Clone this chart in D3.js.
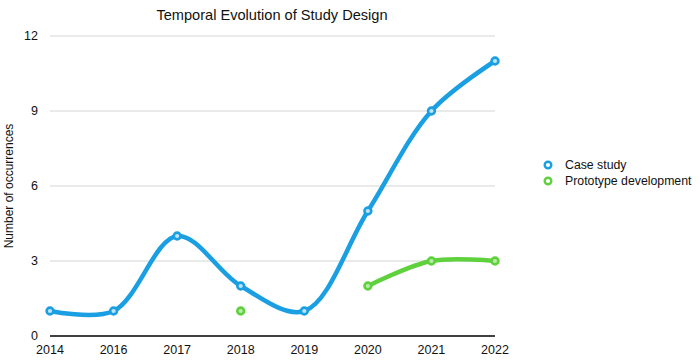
<!DOCTYPE html>
<html><head><meta charset="utf-8">
<script src="https://cdn.jsdelivr.net/npm/d3@7"></script>
<style>body{margin:0;background:#fff;}svg{display:block;font-family:"Liberation Sans",Arial,sans-serif;}</style>
</head><body><svg id="c" width="700" height="361"></svg>
<script>
const categories = ["2014","2016","2017","2018","2019","2020","2021","2022"];
const caseStudy = [1,1,4,2,1,5,9,11];
const prototype = [null,null,null,1,null,2,3,3];
const yTicks = [0,3,6,9,12];
const seriesNames = ["Case study","Prototype development"];
const colors = ["#1a9fe3","#5fd13d"];

const svg = d3.select("#c");
const x = d3.scalePoint().domain(categories).range([50,495]).padding(0);
const y = d3.scaleLinear().domain([0,12]).range([336,36]);

svg.append("g").selectAll("line").data(yTicks.filter(d=>d>0)).join("line")
  .attr("x1",50).attr("x2",495).attr("y1",d=>y(d)).attr("y2",d=>y(d))
  .attr("stroke","#d4d4d4").attr("stroke-width",1);
svg.append("g").selectAll("text").data(yTicks).join("text")
  .attr("x",38).attr("y",d=>y(d)).attr("dy","0.35em").attr("text-anchor","end")
  .attr("font-size",12.5).attr("fill","#111").text(d=>d);
svg.append("line").attr("x1",50).attr("x2",495).attr("y1",y(0)).attr("y2",y(0))
  .attr("stroke","#000").attr("stroke-width",1.3);
svg.append("g").selectAll("text").data(categories).join("text")
  .attr("x",d=>x(d)).attr("y",354).attr("text-anchor","middle")
  .attr("font-size",12.5).attr("fill","#111").text(d=>d);

svg.append("text").attr("x",272).attr("y",20).attr("text-anchor","middle")
  .attr("font-size",14.6).attr("fill","#111").text("Temporal Evolution of Study Design");
svg.append("text").attr("transform","translate(13,186) rotate(-90)").attr("text-anchor","middle")
  .attr("font-size",12).attr("fill","#111").text("Number of occurrences");

const series = [caseStudy, prototype];
series.forEach((vals,i)=>{
  const pts = vals.map((v,j)=>({c:categories[j],v}));
  const line = d3.line().defined(d=>d.v!=null).x(d=>x(d.c)).y(d=>y(d.v)).curve(d3.curveCatmullRom.alpha(0.5));
  svg.append("path").datum(pts).attr("d",line).attr("fill","none")
    .attr("stroke",colors[i]).attr("stroke-width",4.5).attr("stroke-linecap","round").attr("stroke-linejoin","round");
  svg.append("g").selectAll("circle").data(pts.filter(d=>d.v!=null)).join("circle")
    .attr("cx",d=>x(d.c)).attr("cy",d=>y(d.v)).attr("r",3.4)
    .attr("fill",i===0?"#bfe4f8":"#b9eca8").attr("stroke",colors[i]).attr("stroke-width",2.6);
});

const lg = svg.append("g");
seriesNames.forEach((n,i)=>{
  const yy = 165 + i*16;
  lg.append("circle").attr("cx",548).attr("cy",yy).attr("r",3.3).attr("fill","#fff")
    .attr("stroke",colors[i]).attr("stroke-width",2.4);
  lg.append("text").attr("x",565).attr("y",yy).attr("dy","0.35em").attr("font-size",12.3)
    .attr("fill","#111").text(n);
});
</script></body></html>
